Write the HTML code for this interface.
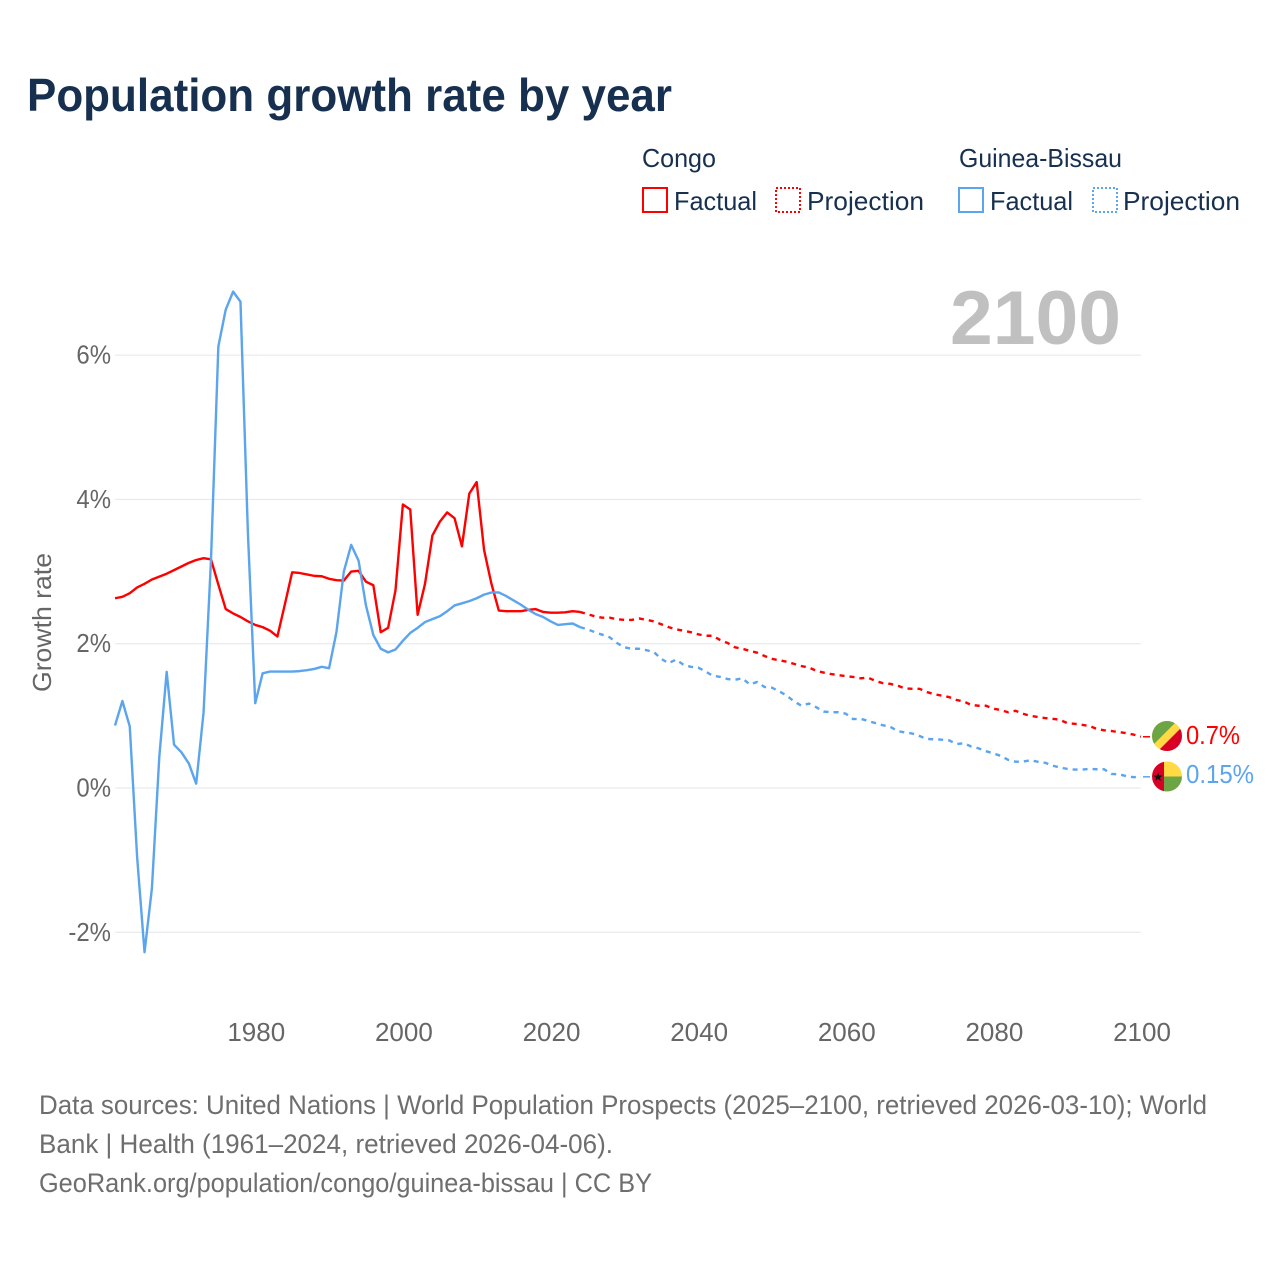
<!DOCTYPE html>
<html lang="en">
<head>
<meta charset="utf-8">
<title>Population growth rate by year</title>
<style>
html,body{margin:0;padding:0;background:#fff;}
svg{display:block;font-family:"Liberation Sans",sans-serif;}
</style>
</head>
<body>
<svg id="chart" xmlns="http://www.w3.org/2000/svg" width="1280" height="1280" viewBox="0 0 1280 1280">
  <rect width="1280" height="1280" fill="#ffffff"/>
  <text x="27" y="111" font-size="46" font-weight="700" fill="#17304f" textLength="645" lengthAdjust="spacingAndGlyphs">Population growth rate by year</text>

  <g font-size="26" fill="#17304f">
    <text x="642" y="167" textLength="74" lengthAdjust="spacingAndGlyphs">Congo</text>
    <rect x="643" y="188" width="24" height="24" fill="none" stroke="#ff0000" stroke-width="2"/>
    <text x="674" y="210" textLength="83" lengthAdjust="spacingAndGlyphs">Factual</text>
    <rect x="776" y="188" width="24" height="24" fill="none" stroke="#ff0000" stroke-width="2" stroke-dasharray="2 2"/>
    <text x="807" y="210" textLength="117" lengthAdjust="spacingAndGlyphs">Projection</text>
    <text x="959" y="167" textLength="163" lengthAdjust="spacingAndGlyphs">Guinea-Bissau</text>
    <rect x="959" y="188" width="24" height="24" fill="none" stroke="#5ba4ee" stroke-width="2"/>
    <text x="990" y="210" textLength="83" lengthAdjust="spacingAndGlyphs">Factual</text>
    <rect x="1093" y="188" width="24" height="24" fill="none" stroke="#5ba4ee" stroke-width="2" stroke-dasharray="2 2"/>
    <text x="1123" y="210" textLength="117" lengthAdjust="spacingAndGlyphs">Projection</text>
  </g>

  <g id="grid"></g>
  <text x="950" y="344" font-size="76" font-weight="700" fill="#c0c0c0" textLength="171" lengthAdjust="spacingAndGlyphs">2100</text>
  <g id="yticks" font-size="26" fill="#666666"></g>
  <g id="xticks" font-size="26" fill="#666666"></g>
  <text transform="translate(51 692) rotate(-90)" font-size="26" fill="#666666" textLength="139" lengthAdjust="spacingAndGlyphs">Growth rate</text>
  <g id="series"></g>

  <g>
    <clipPath id="clip-cg"><circle cx="1167" cy="736" r="15"/></clipPath>
    <g clip-path="url(#clip-cg)">
      <rect x="1152" y="721" width="30" height="30" fill="#ffda44"/>
      <polygon points="1152,721 1177,721 1152,746" fill="#6da544"/>
      <polygon points="1182,751 1182,727 1158,751" fill="#d80027"/>
    </g>
  </g>
  <g>
    <clipPath id="clip-gw"><circle cx="1167" cy="776.5" r="15"/></clipPath>
    <g clip-path="url(#clip-gw)">
      <rect x="1152" y="761" width="12" height="31" fill="#d80027"/>
      <rect x="1164" y="761" width="18" height="15.5" fill="#ffda44"/>
      <rect x="1164" y="776.5" width="18" height="16" fill="#6da544"/>
      <polygon points="1158,772 1159.2,775.5 1162.8,775.5 1159.9,777.6 1161,781 1158,778.9 1155,781 1156.1,777.6 1153.2,775.5 1156.8,775.5" fill="#111111"/>
    </g>
  </g>
  <text x="1186" y="744" font-size="26" fill="#ff0000" textLength="54" lengthAdjust="spacingAndGlyphs">0.7%</text>
  <text x="1186" y="783" font-size="26" fill="#5ba4ee" textLength="68" lengthAdjust="spacingAndGlyphs">0.15%</text>

  <g font-size="27" fill="#6e6e6e">
    <text x="39" y="1114" textLength="1168" lengthAdjust="spacingAndGlyphs">Data sources: United Nations | World Population Prospects (2025–2100, retrieved 2026-03-10); World</text>
    <text x="39" y="1153" textLength="574" lengthAdjust="spacingAndGlyphs">Bank | Health (1961–2024, retrieved 2026-04-06).</text>
    <text x="39" y="1192" textLength="613" lengthAdjust="spacingAndGlyphs">GeoRank.org/population/congo/guinea-bissau | CC BY</text>
  </g>
</svg>
<script>
var factualStartYear = 1961;
var projectionStartYear = 2024;
var yTickValues = [6, 4, 2, 0, -2];
var yTickLabels = ["6%", "4%", "2%", "0%", "-2%"];
var xTickYears = [1980, 2000, 2020, 2040, 2060, 2080, 2100];

var congoFactual = [
  2.63,2.65,2.70,2.78,2.83,2.89,2.93,2.97,3.02,3.07,
  3.12,3.16,3.185,3.17,2.82,2.48,2.42,2.37,2.31,2.26,
  2.23,2.18,2.10,2.54,2.99,2.98,2.96,2.94,2.935,2.90,
  2.88,2.875,3.00,3.01,2.86,2.81,2.16,2.22,2.74,3.93,
  3.86,2.40,2.83,3.50,3.69,3.82,3.74,3.35,4.08,4.24,
  3.30,2.83,2.46,2.45,2.45,2.45,2.47,2.48,2.44,2.43,
  2.43,2.435,2.45,2.44
];
var congoProjection = [
  2.44,2.41,2.38,2.36,2.36,2.34,2.33,2.33,2.35,2.33,
  2.31,2.27,2.23,2.20,2.18,2.16,2.13,2.11,2.11,2.05,
  2.01,1.95,1.93,1.90,1.875,1.83,1.79,1.77,1.75,1.72,
  1.69,1.67,1.625,1.60,1.58,1.565,1.55,1.54,1.52,1.53,
  1.486,1.454,1.444,1.42,1.38,1.375,1.375,1.33,1.30,1.28,
  1.26,1.22,1.20,1.15,1.14,1.14,1.10,1.08,1.05,1.07,
  1.03,1.00,0.985,0.97,0.96,0.945,0.90,0.89,0.875,0.86,
  0.82,0.80,0.79,0.775,0.76,0.74,0.71
];
var guineaBissauFactual = [
  0.866,1.206,0.853,-0.96,-2.276,-1.39,0.43,1.61,0.60,0.495,
  0.34,0.06,1.05,3.15,6.12,6.63,6.88,6.74,3.55,1.175,
  1.59,1.614,1.614,1.614,1.614,1.62,1.633,1.65,1.68,1.66,
  2.16,3.00,3.37,3.15,2.53,2.12,1.93,1.88,1.92,2.04,
  2.15,2.22,2.30,2.34,2.38,2.45,2.53,2.56,2.59,2.63,
  2.68,2.71,2.71,2.66,2.60,2.54,2.47,2.41,2.37,2.31,
  2.26,2.27,2.28,2.23
];
var guineaBissauProjection = [
  2.23,2.20,2.16,2.125,2.09,2.01,1.95,1.93,1.93,1.91,
  1.885,1.79,1.73,1.78,1.71,1.68,1.67,1.615,1.555,1.54,
  1.51,1.50,1.52,1.435,1.47,1.40,1.39,1.34,1.28,1.20,
  1.14,1.17,1.12,1.06,1.05,1.05,1.03,0.955,0.96,0.93,
  0.90,0.87,0.85,0.79,0.77,0.755,0.72,0.68,0.675,0.67,
  0.66,0.61,0.62,0.575,0.55,0.51,0.48,0.445,0.39,0.365,
  0.365,0.385,0.365,0.35,0.31,0.285,0.265,0.255,0.255,0.265,
  0.26,0.26,0.195,0.19,0.165,0.15,0.155
];

var SVG_NS = "http://www.w3.org/2000/svg";
function xScale(year) { return 115 + (year - 1961) * (1026 / 139); }
function yScale(value) { return 788 - value * 72.15; }

function linePoints(values, startYear) {
  return values.map(function (v, i) {
    return xScale(startYear + i).toFixed(2) + "," + yScale(v).toFixed(2);
  }).join(" ");
}

var gridGroup = document.getElementById("grid");
var yTickGroup = document.getElementById("yticks");
yTickValues.forEach(function (value, i) {
  var line = document.createElementNS(SVG_NS, "line");
  
  
  line.setAttribute("x1", 115);
  line.setAttribute("x2", 1141);
  line.setAttribute("y1", yScale(value));
  line.setAttribute("y2", yScale(value));
  line.setAttribute("stroke", "#e6e6e6");
  line.setAttribute("stroke-width", "1");
  gridGroup.appendChild(line);

  var label = document.createElementNS(SVG_NS, "text");
  
  
  label.setAttribute("x", 111);
  label.setAttribute("y", yScale(value) + 8.5);
  label.setAttribute("text-anchor", "end");
  label.textContent = yTickLabels[i];
  yTickGroup.appendChild(label);
  label.setAttribute("textLength", (label.getComputedTextLength() * 0.92).toFixed(1));
  label.setAttribute("lengthAdjust", "spacingAndGlyphs");
});

var xTickGroup = document.getElementById("xticks");
xTickYears.forEach(function (year) {
  var label = document.createElementNS(SVG_NS, "text");
  
  
  label.setAttribute("x", xScale(year) + 1);
  label.setAttribute("y", 1041);
  label.setAttribute("text-anchor", "middle");
  label.textContent = String(year);
  xTickGroup.appendChild(label);
});

function drawSeries(values, startYear, color, dashed, name) {
  var line = document.createElementNS(SVG_NS, "polyline");
  
  
  line.setAttribute("points", linePoints(values, startYear));
  line.setAttribute("fill", "none");
  line.setAttribute("stroke", color);
  line.setAttribute("stroke-width", "2.4");
  line.setAttribute("stroke-linejoin", "round");
  if (dashed) {
    line.setAttribute("stroke-dasharray", "5 5");
  }
  document.getElementById("series").appendChild(line);
}

function drawConnector(values, color, name) {
  var endY = yScale(values[values.length - 1]);
  var line = document.createElementNS(SVG_NS, "line");
  
  
  line.setAttribute("x1", xScale(2100) + 2);
  line.setAttribute("x2", xScale(2100) + 9);
  line.setAttribute("y1", endY);
  line.setAttribute("y2", endY);
  line.setAttribute("stroke", color);
  line.setAttribute("stroke-width", "1.5");
  document.getElementById("series").appendChild(line);
}

drawSeries(congoFactual, factualStartYear, "#ff0000", false, "congo-factual-line");
drawSeries(congoProjection, projectionStartYear, "#ff0000", true, "congo-projection-line");
drawSeries(guineaBissauFactual, factualStartYear, "#5ba4ee", false, "guinea-bissau-factual-line");
drawSeries(guineaBissauProjection, projectionStartYear, "#5ba4ee", true, "guinea-bissau-projection-line");
drawConnector(congoProjection, "#ff0000", "congo-end-connector");
drawConnector(guineaBissauProjection, "#5ba4ee", "guinea-bissau-end-connector");
</script>
</body>
</html>
